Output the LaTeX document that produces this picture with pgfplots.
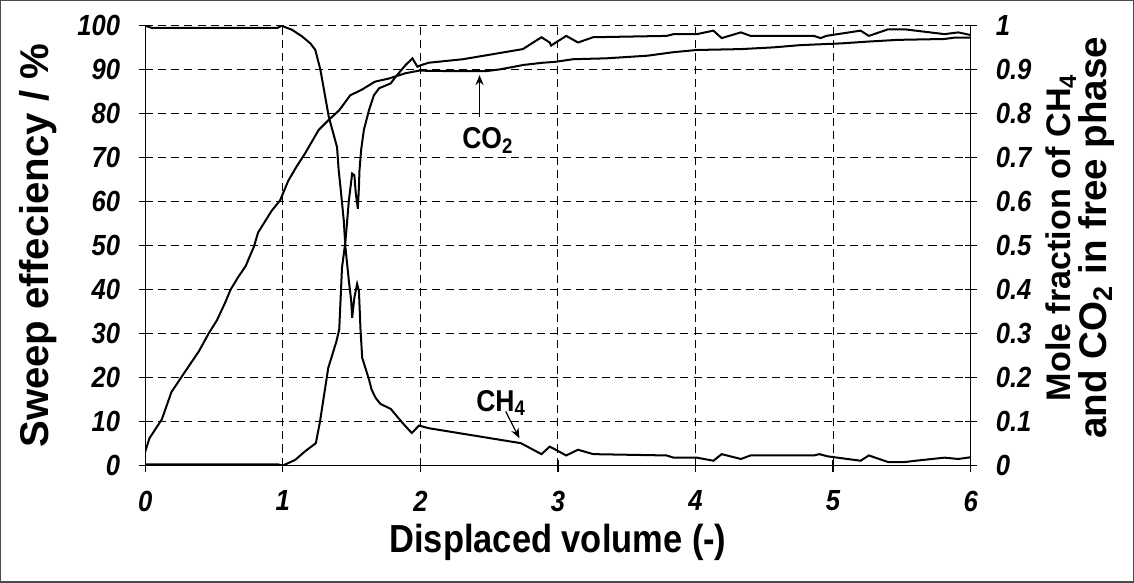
\documentclass[border=0pt]{standalone}
\usepackage{pgfplots}
\pgfplotsset{compat=1.18}
\usepackage{pgfplotstable}
\usepackage{fontspec}
\setmainfont{Liberation Sans}
\newfontfamily\condsans[FakeStretch=0.88]{Liberation Sans}
\usetikzlibrary{arrows.meta}
\newcommand\tickfont{\condsans\bfseries\itshape\fontsize{14.5}{16}\selectfont}
\newcommand\xlabfont{\condsans\bfseries\fontsize{19.5}{23}\selectfont}
\newcommand\ylabfont{\bfseries\fontsize{20}{23}\selectfont}
\newcommand\rlabfontA{\bfseries\fontsize{17}{21}\selectfont}
\newcommand\rlabfontB{\bfseries\fontsize{19.2}{21}\selectfont}
\newcommand\annfont{\condsans\bfseries\fontsize{15}{17}\selectfont}

\pgfplotstableread{
x y
0 3.2
0.03 6.2
0.12 10.5
0.19 16.7
0.26 20
0.34 23.7
0.39 26
0.46 30
0.52 33
0.58 37
0.62 40
0.67 42.6
0.73 45.4
0.79 49.8
0.82 53
0.92 58
0.98 60.3
1.04 64.8
1.10 68
1.16 70.9
1.26 76.3
1.33 78.5
1.41 80.8
1.49 84.2
1.57 85.4
1.67 87.3
1.77 88
1.89 89.2
1.99 89.8
2.2 89.7
2.48 89.7
2.58 90.1
2.75 91.1
2.89 91.6
2.98 91.8
3.11 92.4
3.35 92.6
3.65 93.2
3.84 94
4.01 94.5
4.33 94.7
4.57 95.1
4.76 95.6
5.06 96
5.25 96.4
5.47 96.8
5.81 97
5.88 97.3
6 97.3
}\sweep

\pgfplotstableread{
x y
0 0.003
0.96 0.003
1.0 0
1.09 0.013
1.16 0.032
1.24 0.051
1.27 0.10
1.33 0.222
1.39 0.283
1.41 0.31
1.43 0.45
1.455 0.51
1.48 0.603
1.504 0.664
1.52 0.66
1.53 0.62
1.545 0.584
1.553 0.633
1.557 0.671
1.57 0.72
1.589 0.763
1.626 0.808
1.662 0.842
1.70 0.858
1.784 0.869
1.82 0.884
1.893 0.911
1.942 0.926
1.978 0.907
2.0 0.91
2.06 0.916
2.31 0.924
2.575 0.938
2.745 0.947
2.88 0.974
2.94 0.962
2.95 0.955
3.06 0.977
3.146 0.962
3.256 0.974
3.79 0.977
3.84 0.981
4.01 0.981
4.13 0.989
4.19 0.972
4.33 0.985
4.4 0.977
4.86 0.977
4.91 0.972
4.95 0.977
5.2 0.989
5.26 0.977
5.4 0.992
5.52 0.992
5.6 0.989
5.81 0.981
5.91 0.985
6 0.979
}\cotwo

\pgfplotstableread{
x y
0 1.0
0.05 0.995
0.96 0.995
0.99 1.0
1.066 0.991
1.139 0.976
1.2 0.96
1.236 0.945
1.273 0.90
1.334 0.793
1.394 0.724
1.406 0.671
1.419 0.633
1.443 0.557
1.455 0.496
1.48 0.42
1.497 0.374
1.504 0.336
1.52 0.382
1.54 0.413
1.553 0.397
1.565 0.306
1.577 0.245
1.626 0.196
1.645 0.173
1.674 0.154
1.71 0.14
1.784 0.129
1.87 0.097
1.937 0.074
1.99 0.091
2.06 0.085
2.65 0.055
2.73 0.051
2.88 0.026
2.94 0.043
2.96 0.040
3.06 0.023
3.146 0.036
3.256 0.026
3.79 0.023
3.84 0.018
4.01 0.018
4.13 0.011
4.19 0.026
4.33 0.015
4.4 0.023
4.86 0.023
4.9 0.026
4.96 0.021
5.2 0.011
5.26 0.023
5.4 0.008
5.52 0.008
5.6 0.011
5.81 0.018
5.91 0.015
6 0.019
}\chfour

\begin{document}
\begin{tikzpicture}
\begin{axis}[name=main,
  scale only axis, width=411pt, height=219pt,
  xmin=0, xmax=6, ymin=0, ymax=100,
  axis x line*=bottom, axis y line*=left,
  axis line style={black, line width=0.6pt},
  xtick={0,1,2,3,4,5,6}, xticklabels={0,1,2,3,4,5,6},
  ytick={0,10,20,30,40,50,60,70,80,90,100},
  yticklabels={0,10,20,30,40,50,60,70,80,90,100},
  tick align=center, major tick length=6pt,
  tick style={black, line width=0.6pt},
  xmajorgrids, ymajorgrids,
  major grid style={black, line width=0.5pt, dash pattern=on 4pt off 2.5pt},
  ticklabel style={font=\tickfont},
  xticklabel style={yshift=-6pt},
  yticklabel style={xshift=-6pt},
  xlabel={Displaced volume (-)},
  xlabel style={font=\xlabfont, at={(axis description cs:0.5,0)}, anchor=center, yshift=-38pt},
  ylabel={Sweep effeciency / \%},
  ylabel style={font=\ylabfont, at={(axis description cs:0,0.5)}, anchor=center, yshift=53.5pt},
]
\addplot[black, line width=1pt] table[x=x, y=y] {\sweep};
\end{axis}
\begin{axis}[
  scale only axis, width=411pt, height=219pt,
  xmin=0, xmax=6, ymin=0, ymax=1,
  axis x line=none, axis y line*=right,
  axis line style={black, line width=0.6pt},
  ytick={0,0.1,0.2,0.3,0.4,0.5,0.6,0.7,0.8,0.9,1},
  yticklabels={0,0.1,0.2,0.3,0.4,0.5,0.6,0.7,0.8,0.9,1},
  tick align=center, major tick length=6pt,
  tick style={black, line width=0.6pt},
  ticklabel style={font=\tickfont},
  yticklabel style={xshift=6pt},
  ylabel={{\rlabfontA Mole fraction of CH\textsubscript{4}}\\{\rlabfontB and CO\textsubscript{2} in free phase}},
  ylabel style={align=center, at={(axis description cs:1,0.5)}, anchor=center, yshift=-54.5pt, xshift=4pt},
]
\addplot[black, line width=1pt] table[x=x, y=y] {\cotwo};
\addplot[black, line width=1pt] table[x=x, y=y] {\chfour};
\node[font=\annfont] at (axis cs:2.49,0.74) {CO\textsubscript{2}};
\draw[line width=0.8pt, -{Stealth[length=5pt,width=4pt]}] (axis cs:2.43,0.793) -- (axis cs:2.43,0.888);
\node[font=\annfont] at (axis cs:2.587,0.142) {CH\textsubscript{4}};
\draw[line width=0.6pt, -{Stealth[length=5pt,width=4pt]}] (axis cs:2.62,0.123) -- (axis cs:2.72,0.062);
\end{axis}
\draw[black!70, line width=0.7pt] ([xshift=-72pt,yshift=-58pt]main.south west) rectangle ([xshift=81pt,yshift=12.5pt]main.north east);
\end{tikzpicture}
\end{document}
